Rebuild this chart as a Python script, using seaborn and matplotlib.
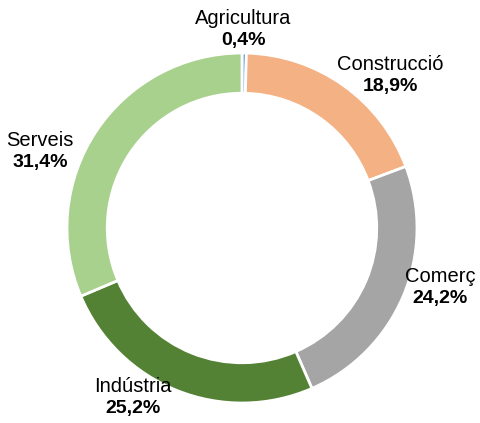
import numpy as np
import matplotlib
matplotlib.use("Agg")
import matplotlib.pyplot as plt
import seaborn as sns

# Sector share of the total (%)
sectors = ["Agricultura", "Construcció", "Comerç", "Indústria", "Serveis"]
shares = [0.4, 18.9, 24.2, 25.2, 31.4]
colors = ["#5b9bd5", "#f4b183", "#a5a5a5", "#548235", "#a9d18e"]

# label centre positions (pixels from top-left), tuned to the reference layout
label_pos = [(243, 29), (390, 75), (440, 287), (133, 397), (40, 151)]

sns.set_theme(style="white")
plt.rcParams["font.family"] = ["Liberation Sans", "DejaVu Sans"]

W, H = 480, 423
R = 175.0
cx, cy = 242.0, 195.0  # pie centre in pixels from bottom-left

fig = plt.figure(figsize=(W / 100, H / 100), dpi=100)
ax = fig.add_axes([0, 0, 1, 1])
ax.pie(
    shares,
    colors=colors,
    startangle=90,
    counterclock=False,
    radius=1.0,
    wedgeprops=dict(width=0.23, edgecolor="white", linewidth=2),
)
ax.set_xlim(-cx / R, (W - cx) / R)
ax.set_ylim(-cy / R, (H - cy) / R)
ax.set_aspect("equal")
ax.axis("off")

for name, val, (px, py) in zip(sectors, shares, label_pos):
    pct = f"{val:.1f}%".replace(".", ",")
    x, y = px / W, 1 - py / H
    ax.text(x, y + 11 / H, name, transform=ax.transAxes, ha="center", va="center",
            fontsize=14.5, color="#000000")
    ax.text(x, y - 11 / H, pct, transform=ax.transAxes, ha="center", va="center",
            fontsize=14, fontweight="bold", color="#000000")

fig.savefig("out.png", dpi=100)
